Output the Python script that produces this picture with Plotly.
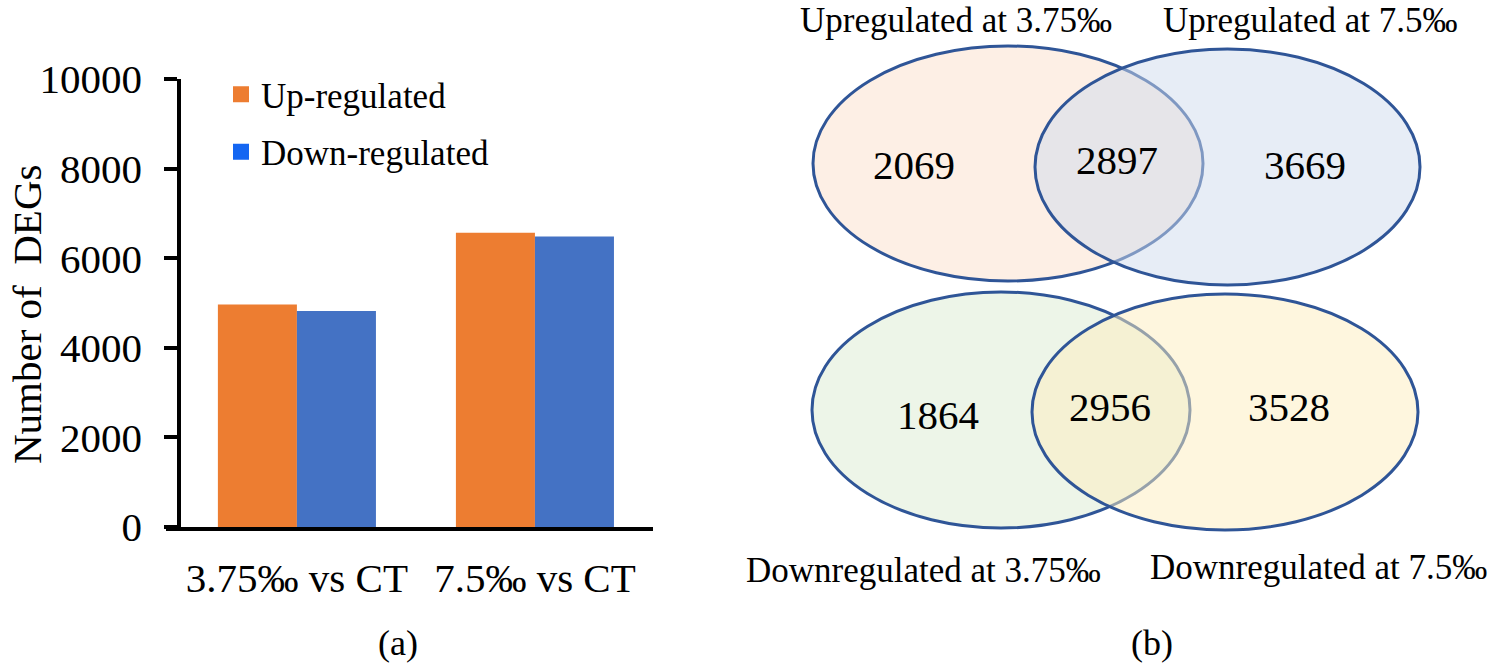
import plotly.graph_objects as go

FW, H0 = 1489, 667
FONT = "Liberation Serif, Times New Roman, serif"

# ---------------- data ----------------
categories = ["3.75‰ vs CT", "7.5‰ vs CT"]
up_regulated = [4966, 6566]
down_regulated = [4820, 6484]
y_ticks = [0, 2000, 4000, 6000, 8000, 10000]

venn_top_labels = ["Upregulated at 3.75‰", "Upregulated at 7.5‰"]
venn_top_counts = [2069, 2897, 3669]
venn_bottom_labels = ["Downregulated at 3.75‰", "Downregulated at 7.5‰"]
venn_bottom_counts = [1864, 2956, 3528]

ORANGE = "#ED7D31"
BLUE = "#4472C4"
LEG_BLUE = "#1466F2"
LINE = "#2F5597"


def px(x):
    return x / FW


def py(y):
    return 1 - y / H0


fig = go.Figure()
fig.add_trace(go.Bar(x=categories, y=up_regulated, marker_color=ORANGE,
                     marker_line_width=0, showlegend=False, name="Up-regulated"))
fig.add_trace(go.Bar(x=categories, y=down_regulated, marker_color=BLUE,
                     marker_line_width=0, showlegend=False, name="Down-regulated"))
# legend entries (square markers)
fig.add_trace(go.Scatter(x=[None], y=[None], mode="markers", name="Up-regulated",
                         marker=dict(symbol="square", size=16, color=ORANGE),
                         legendgroup="a"))
fig.add_trace(go.Scatter(x=[None], y=[None], mode="markers", name="Down-regulated",
                         marker=dict(symbol="square", size=16, color=LEG_BLUE),
                         legendgroup="b"))

fig.update_layout(
    template="none",
    width=FW, height=H0, autosize=False,
    margin=dict(l=0, r=0, t=0, b=0, pad=0, autoexpand=False),
    paper_bgcolor="white", plot_bgcolor="white",
    font=dict(family=FONT, color="black"),
    barmode="group", bargap=0.336, bargroupgap=0,
    showlegend=True,
    legend=dict(x=px(221), y=py(65), xanchor="left", yanchor="top",
                font=dict(size=35, family=FONT), bgcolor="rgba(0,0,0,0)",
                traceorder="grouped", tracegroupgap=9, itemwidth=30),
    xaxis=dict(domain=[px(166), px(653)], range=[-0.550, 1.496], anchor="y",
               showline=True, linecolor="black", linewidth=3.5, ticks="",
               showgrid=False, zeroline=False, tickfont=dict(size=41, family=FONT),
               ticklabelstandoff=12, automargin=False),
    yaxis=dict(domain=[py(527), py(79)], range=[0, 10000], anchor="free", position=px(179),
               showline=True, linecolor="black", linewidth=3.5, ticks="outside", ticklen=13,
               tickwidth=3.5, tickcolor="black", tickvals=y_ticks, tickformat="d",
               showgrid=False, zeroline=False, tickfont=dict(size=41, family=FONT),
               ticklabelstandoff=14, automargin=False),
)


def ann(x, y, text, size, angle=0):
    return dict(x=px(x), y=py(y), text=text, textangle=angle, showarrow=False,
                xanchor="center", yanchor="middle", xref="paper", yref="paper",
                font=dict(size=size, family=FONT, color="black"))


annotations = [
    ann(27, 315, "Number of  DEGs", 41, -90),
    ann(398, 643, "(a)", 36),
    ann(1152, 643, "(b)", 36),
]

# ---------------- venn ----------------
ellipses = [
    (813, 1203, 46, 281, "#FDEFE5"),
    (1035, 1420, 49, 285, "rgba(207,219,238,0.5)"),
    (812, 1190, 292, 528, "#EDF5E8"),
    (1032, 1418, 294, 530, "rgba(253,237,189,0.5)"),
]
shapes = []
for (x0, x1, y0, y1, fill) in ellipses:
    shapes.append(dict(type="circle", xref="paper", yref="paper",
                       x0=px(x0), x1=px(x1), y0=py(y1), y1=py(y0),
                       fillcolor=fill, line=dict(color=LINE, width=3), layer="above"))

label_pos_top = [(956, 20), (1310, 20)]
label_pos_bottom = [(923, 570), (1318, 567)]
count_pos_top = [(914, 165), (1117, 160), (1305, 165)]
count_pos_bottom = [(938, 415), (1110, 407), (1289, 407)]

for t, (x, y) in zip(venn_top_labels + venn_bottom_labels, label_pos_top + label_pos_bottom):
    annotations.append(ann(x, y, t, 35))
for c, (x, y) in zip(venn_top_counts + venn_bottom_counts, count_pos_top + count_pos_bottom):
    annotations.append(ann(x, y, str(c), 41))

fig.update_layout(shapes=shapes, annotations=annotations)
fig.write_html("out.html", config={"displayModeBar": False},
               post_script="document.body.style.margin='0px';")
